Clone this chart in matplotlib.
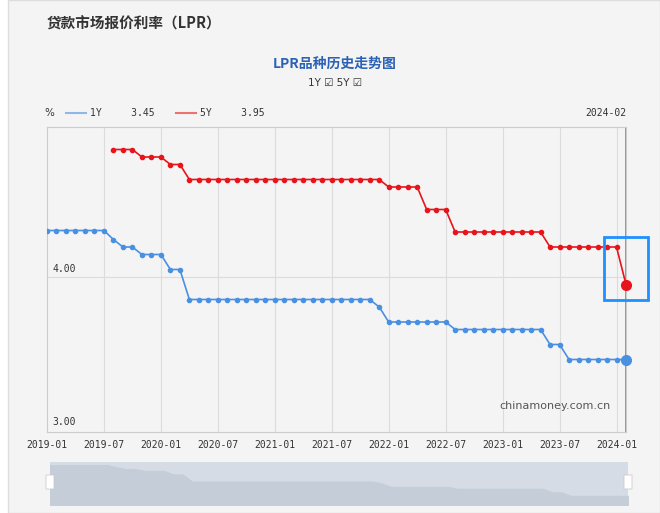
import matplotlib
matplotlib.use("Agg")
import matplotlib.pyplot as plt
from matplotlib.patches import Rectangle, FancyBboxPatch

plt.rcParams['font.family'] = ['Noto Sans CJK SC', 'DejaVu Sans']

months = [f"{y}-{m:02d}" for y in range(2019, 2025) for m in range(1, 13)][:62]
lpr_1y = [4.31]*7 + [4.25, 4.20, 4.20, 4.15, 4.15, 4.15, 4.05, 4.05] + [3.85]*20 + [3.80] + [3.70]*7 + [3.65]*10 + [3.55, 3.55] + [3.45]*7
lpr_5y = [None]*7 + [4.85, 4.85, 4.85, 4.80, 4.80, 4.80, 4.75, 4.75] + [4.65]*21 + [4.60]*4 + [4.45]*3 + [4.30]*10 + [4.20]*8 + [3.95]
tick_labels = ["2019-01","2019-07","2020-01","2020-07","2021-01","2021-07","2022-01","2022-07","2023-01","2023-07","2024-01"]
n = len(lpr_1y)
x = list(range(n))

W, H = 660, 513
fig = plt.figure(figsize=(6.6, 5.13), dpi=100)
fig.patch.set_facecolor('white')
fig.add_artist(Rectangle((8/W, 0), 652/W, 1, transform=fig.transFigure, facecolor='#f4f4f4', edgecolor='#dddddd', lw=1, zorder=-5))
fig.text(47/W, 1-24/H, "贷款市场报价利率（LPR）", fontsize=10.5, fontweight='bold', color='#333333', va='center')
fig.text(335/W, 1-64/H, "LPR品种历史走势图", fontsize=10, color='#2b62b5', ha='center', va='center', fontweight='bold')
fig.text(335/W, 1-83/H, "1Y ☑ 5Y ☑", fontsize=7.5, color='#333333', ha='center', va='center', family=['DejaVu Sans'])

ax = fig.add_axes([47/W, 1-432/H, (626-47)/W, (432-127)/H])
ax.set_facecolor('#f4f4f4')
ax.set_xlim(0, n-1)
ax.set_ylim(3 - 5/150, 5.0)
tick_pos = [i*6 for i in range(len(tick_labels))]
ax.set_xticks(tick_pos)
ax.set_xticklabels(tick_labels, fontsize=7, color='#333333', family=['DejaVu Sans Mono'])
ax.set_yticks([])
ax.tick_params(axis='x', length=0, pad=6)
for p in tick_pos[1:]:
    ax.axvline(p, color='#dcdcdc', lw=0.8, zorder=0)
for v in [4.0]:
    ax.axhline(v, color='#dcdcdc', lw=0.8, zorder=0)
for s in ax.spines.values():
    s.set_color('#cccccc'); s.set_linewidth(0.8)
ax.text(0.6, 4.02, "4.00", fontsize=7, color='#333333', va='bottom', family=['DejaVu Sans Mono'])
ax.text(0.6, 3.0, "3.00", fontsize=7, color='#333333', va='bottom', family=['DejaVu Sans Mono'])
ax.axvline(n-1, color='#4a90d9', lw=1.2)

ax.plot(x, lpr_1y, color='#4a90e2', lw=1.2, marker='o', ms=3, zorder=3)
x5 = [i for i, v in zip(x, lpr_5y) if v is not None]
y5 = [v for v in lpr_5y if v is not None]
ax.plot(x5, y5, color='#e8141b', lw=1.2, marker='o', ms=3, zorder=3)
ax.plot([n-1], [lpr_1y[-1]], 'o', color='#4a90e2', ms=7, zorder=4, clip_on=False)
ax.plot([n-1], [lpr_5y[-1]], 'o', color='#e8141b', ms=7, zorder=4, clip_on=False)
ax.text(n-8.5, 3.12, "chinamoney.com.cn", fontsize=8, color='#555555', ha='center', family=['DejaVu Sans'])
fig.add_artist(Rectangle((604/W, 1-300/H), 44/W, 63/H, transform=fig.transFigure, fill=False, edgecolor='#1e90ff', lw=2))

# legend row
fig.text(44/W, 1-113/H, "%", fontsize=7.5, color='#333333', va='center', family=['DejaVu Sans'])
fig.add_artist(plt.Line2D([66/W, 86/W], [1-113/H]*2, color='#8fb8e8', lw=1.5))
fig.text(90/W, 1-113/H, "1Y     3.45", fontsize=7, color='#333333', va='center', family=['DejaVu Sans Mono'])
fig.add_artist(plt.Line2D([176/W, 196/W], [1-113/H]*2, color='#ee7070', lw=1.5))
fig.text(200/W, 1-113/H, "5Y     3.95", fontsize=7, color='#333333', va='center', family=['DejaVu Sans Mono'])
fig.text(626/W, 1-113/H, months[n-1], fontsize=7, color='#333333', va='center', ha='right', family=['DejaVu Sans Mono'])

# slider
ax2 = fig.add_axes([50/W, 1-505/H, (628-50)/W, (505-462)/H])
ax2.set_facecolor('#d5dce5')
ax2.fill_between(x, lpr_1y, 2.9, color='#c5cdd8', step=None)
ax2.set_xlim(0, n-1); ax2.set_ylim(3.2, 4.4)
ax2.set_xticks([]); ax2.set_yticks([])
for s in ax2.spines.values():
    s.set_visible(False)
for px in [50, 628]:
    fig.add_artist(FancyBboxPatch(((px-4)/W, 1-489/H), 8/W, 14/H, boxstyle='round,pad=0', transform=fig.transFigure, facecolor='white', edgecolor='#cccccc', lw=0.6))

fig.savefig("out.png", dpi=100)
